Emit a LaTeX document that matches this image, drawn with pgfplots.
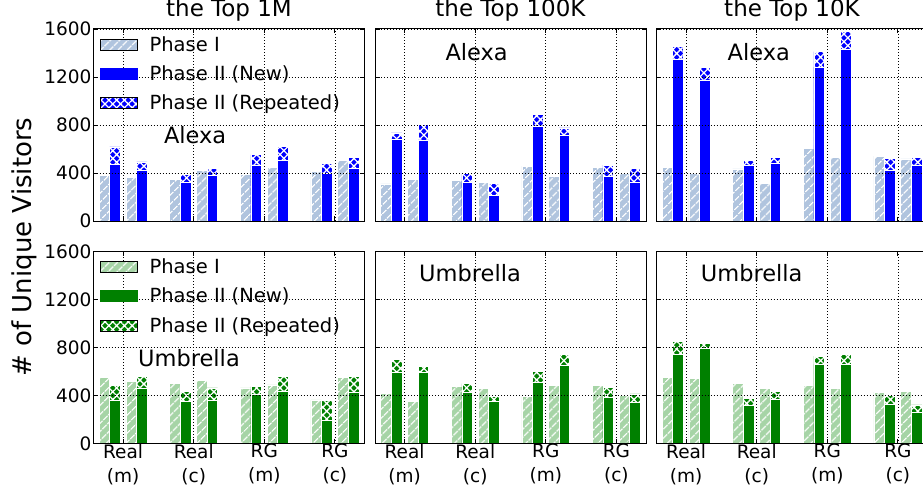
\documentclass[border=0pt]{standalone}
\usepackage{fontspec}
\setmainfont{DejaVu Sans}
\usepackage{pgfplots}
\usepackage{pgfplotstable}
\pgfplotsset{compat=1.18}
\usetikzlibrary{patterns.meta}

\definecolor{ptop}{RGB}{176,196,222}
\definecolor{pbot}{RGB}{166,212,166}
\definecolor{ctop}{RGB}{0,0,255}
\definecolor{cbot}{RGB}{0,128,0}

\newcommand{\tickfont}{\fontsize{18.5}{24}\selectfont}
\newcommand{\legfont}{\fontsize{19.5}{22}\selectfont}
\newcommand{\titlefont}{\fontsize{23}{26}\selectfont}
\newcommand{\notefont}{\fontsize{22.5}{26}\selectfont}

% columns: phase I (a), phase II new (a), phase II total (a), phase I (b), new (b), total (b)
\pgfplotstableread{
x p1a na ta p1b nb tb
0 382 471 618 363 419 493
1 346 319 391 424 377 441
2 388 463 552 444 502 624
3 416 396 480 507 435 527
}\tabTA
\pgfplotstableread{
x p1a na ta p1b nb tb
0 310 685 735 344 676 804
1 341 319 396 324 213 313
2 457 787 887 369 712 776
3 449 369 466 394 324 441
}\tabTB
\pgfplotstableread{
x p1a na ta p1b nb tb
0 446 1350 1458 396 1175 1278
1 435 463 507 313 482 529
2 602 1283 1411 527 1428 1577
3 541 419 521 518 468 532
}\tabTC
\pgfplotstableread{
x p1a na ta p1b nb tb
0 548 361 481 517 464 559
1 500 353 436 525 356 464
2 464 411 475 489 434 556
3 364 192 356 550 425 556
}\tabBA
\pgfplotstableread{
x p1a na ta p1b nb tb
0 420 592 703 350 595 645
1 475 428 500 459 348 395
2 395 514 603 481 648 745
3 487 384 467 403 342 414
}\tabBB
\pgfplotstableread{
x p1a na ta p1b nb tb
0 548 742 853 542 792 831
1 503 317 373 459 367 436
2 481 659 728 459 662 745
3 428 328 403 434 256 322
}\tabBC

\tikzset{
  hatchI/.style={postaction={pattern={Lines[angle=45,distance=6.5pt,line width=1.3pt]}, pattern color=white}},
  hatchX/.style={postaction={pattern={Hatch[angle=45,distance=5.5pt,line width=1.3pt]}, pattern color=white}},
}

\newcommand{\bars}[3]{%
  \addplot[ybar, bar width=0.15, bar shift=-0.265, fill=#2, draw=white, line width=0.6pt, hatchI, forget plot] table[x=x,y=p1a]{#1};
  \addplot[ybar, bar width=0.15, bar shift=-0.115, fill=#3, draw=white, line width=0.6pt, hatchX, forget plot] table[x=x,y=ta]{#1};
  \addplot[ybar, bar width=0.15, bar shift=-0.115, fill=#3, draw=white, line width=0.6pt, forget plot] table[x=x,y=na]{#1};
  \addplot[ybar, bar width=0.15, bar shift=0.115, fill=#2, draw=white, line width=0.6pt, hatchI, forget plot] table[x=x,y=p1b]{#1};
  \addplot[ybar, bar width=0.15, bar shift=0.265, fill=#3, draw=white, line width=0.6pt, hatchX, forget plot] table[x=x,y=tb]{#1};
  \addplot[ybar, bar width=0.15, bar shift=0.265, fill=#3, draw=white, line width=0.6pt, forget plot] table[x=x,y=nb]{#1};
}

\newcommand{\legimgs}[2]{%
  \addlegendimage{legend image code/.code={\fill[#1] (0pt,-5.5pt) rectangle (37pt,5.5pt); \fill[pattern={Lines[angle=45,distance=6.5pt,line width=1.3pt]}, pattern color=white] (0pt,-5.5pt) rectangle (37pt,5.5pt);}}
  \addlegendentry{Phase I}
  \addlegendimage{legend image code/.code={\fill[#2] (0pt,-5.5pt) rectangle (37pt,5.5pt);}}
  \addlegendentry{Phase II (New)}
  \addlegendimage{legend image code/.code={\fill[#2] (0pt,-5.5pt) rectangle (37pt,5.5pt); \fill[pattern={Hatch[angle=45,distance=5.5pt,line width=1.3pt]}, pattern color=white] (0pt,-5.5pt) rectangle (37pt,5.5pt);}}
  \addlegendentry{Phase II (Repeated)}
}

\pgfplotsset{
  panel/.style={
    scale only axis, width=271pt, height=192pt, anchor=south west,
    xmin=-0.42, xmax=3.42, ymin=0, ymax=1600,
    xtick={0,1,2,3}, ytick={0,400,800,1200,1600},
    grid=major, major grid style={black, line width=0.7pt, dash pattern=on 1pt off 2pt},
    tick align=inside, major tick length=4.5pt, tick style={black, line width=0.8pt},
    axis line style={black, line width=1pt},
    axis on top,
    ticklabel style={font=\tickfont},
    yticklabel style={xshift=1.5pt},
    /pgf/number format/assume math mode=true,
    /pgf/number format/set thousands separator={},
    title style={font=\titlefont, at={(0.5,1)}, anchor=base, yshift=6pt},
    legend cell align=left,
    legend style={at={(0,1)}, anchor=north west, xshift=6.5pt, yshift=-7pt, draw=none, fill=none,
      font=\legfont, inner sep=0pt, row sep=13pt,
      nodes={inner sep=0pt},
      /tikz/every odd column/.append style={column sep=12pt}},
  },
  toprow/.style={xticklabels={}},
  botrow/.style={xticklabels={{Real\\(m)},{Real\\(c)},{RG\\(m)},{RG\\(c)}},
    xticklabel style={align=center, font=\tickfont, yshift=3pt}},
  inner/.style={yticklabels={}},
}

\begin{document}
\begin{tikzpicture}
% top row (Alexa)
\begin{axis}[panel, toprow, at={(93.5pt,-221pt)}, title={the Top 1M}]
  \bars{\tabTA}{ptop}{ctop}
  \legimgs{ptop}{ctop}
  \node[font=\notefont] at (axis cs:1.02,717) {Alexa};
\end{axis}
\begin{axis}[panel, toprow, inner, at={(375pt,-221pt)}, title={the Top 100K}]
  \bars{\tabTB}{ptop}{ctop}
  \node[font=\notefont] at (axis cs:1.02,1411) {Alexa};
\end{axis}
\begin{axis}[panel, toprow, inner, at={(656.5pt,-221pt)}, title={the Top 10K}]
  \bars{\tabTC}{ptop}{ctop}
  \node[font=\notefont] at (axis cs:1.03,1411) {Alexa};
\end{axis}
% bottom row (Umbrella)
\begin{axis}[panel, botrow, at={(93.5pt,-443.5pt)}]
  \bars{\tabBA}{pbot}{cbot}
  \legimgs{pbot}{cbot}
  \node[font=\notefont] at (axis cs:0.933,712) {Umbrella};
\end{axis}
\begin{axis}[panel, botrow, inner, at={(375pt,-443.5pt)}]
  \bars{\tabBB}{pbot}{cbot}
  \node[font=\notefont] at (axis cs:0.926,1421) {Umbrella};
\end{axis}
\begin{axis}[panel, botrow, inner, at={(656.5pt,-443.5pt)}]
  \bars{\tabBC}{pbot}{cbot}
  \node[font=\notefont] at (axis cs:0.929,1421) {Umbrella};
\end{axis}
\node[rotate=90, font=\fontsize{26}{28}\selectfont] at (24pt,-247pt) {\# of Unique Visitors};
\pgfresetboundingbox
\path[use as bounding box] (0pt,0pt) rectangle (923pt,-489pt);
\end{tikzpicture}
\end{document}
